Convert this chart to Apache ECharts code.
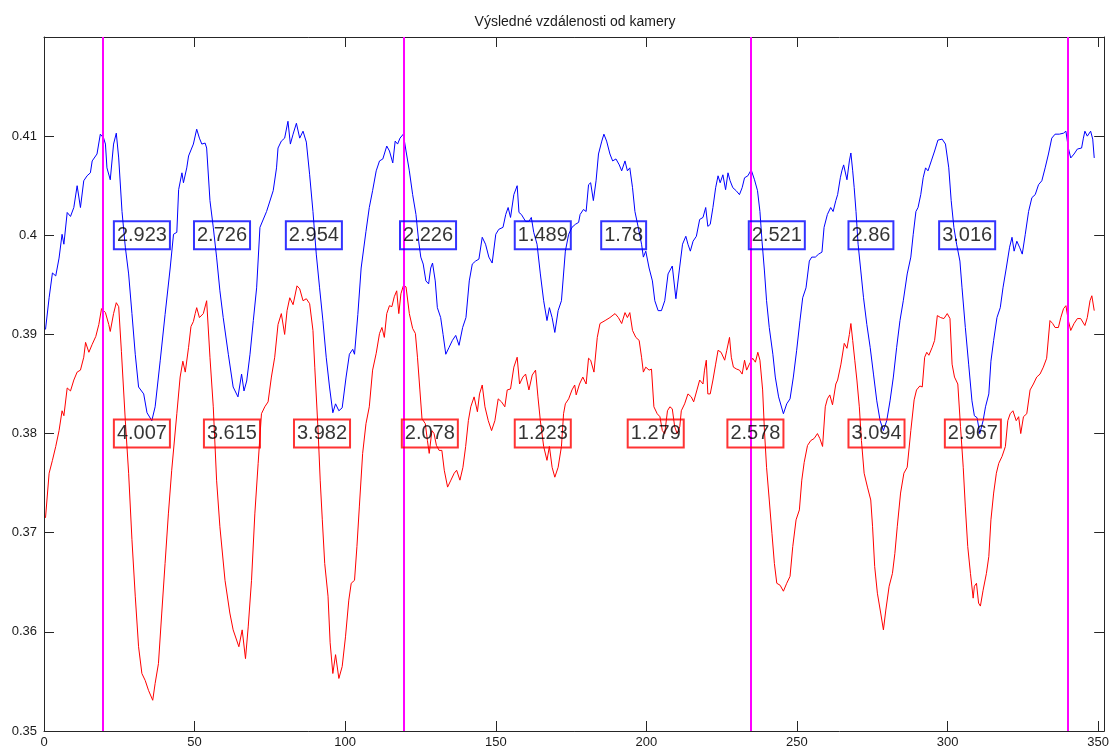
<!DOCTYPE html>
<html>
<head>
<meta charset="utf-8">
<script src="https://cdn.jsdelivr.net/npm/echarts@6/dist/echarts.min.js"></script>
<style>
html,body{margin:0;padding:0;background:#fff;}
#chart{width:1112px;height:752px;}
</style>
</head>
<body>
<div id="chart"></div>
<script>
// ---- data ----
const chartTitle = 'Výsledné vzdálenosti od kamery';
const xTickValues = [0, 50, 100, 150, 200, 250, 300, 350];
const yTickValues = [0.35, 0.36, 0.37, 0.38, 0.39, 0.4, 0.41];

const bluePoints = [
[0.5,0.3905],[1.7,0.3937],[2.8,0.3962],[3.9,0.3959],[5.0,0.3977],[6.0,0.4001],[6.6,0.3991],[7.7,0.4023],[8.8,0.4019],[9.9,0.4028],
[11.0,0.4050],[12.1,0.4028],[13.2,0.4055],[14.3,0.4060],[15.4,0.4063],[16.0,0.4075],[17.6,0.4082],[18.7,0.4102],[19.8,0.4098],[20.4,0.4092],
[20.9,0.4068],[22.0,0.4056],[23.1,0.4092],[24.0,0.4103],[24.8,0.4078],[25.9,0.4024],[27.0,0.3988],[28.1,0.3961],[29.2,0.3921],[30.3,0.3880],
[31.4,0.3847],[33.1,0.3840],[34.2,0.3821],[35.8,0.3813],[36.9,0.3827],[38.6,0.3874],[40.2,0.3920],[41.9,0.3967],[43.0,0.4001],[44.1,0.4003],
[44.7,0.4046],[45.8,0.4063],[46.3,0.4053],[47.4,0.4068],[48.0,0.4080],[49.6,0.4092],[50.7,0.4107],[51.6,0.4098],[52.4,0.4092],[53.5,0.4093],
[54.0,0.4088],[55.1,0.4035],[56.2,0.4008],[57.3,0.3978],[58.4,0.3944],[59.5,0.3917],[61.2,0.3880],[62.8,0.3847],[64.4,0.3837],[65.6,0.3860],
[66.4,0.3843],[67.3,0.3853],[68.4,0.3880],[69.5,0.3914],[70.6,0.3947],[71.7,0.4008],[73.9,0.4024],[76.1,0.4045],[77.2,0.4068],[77.7,0.4088],
[78.8,0.4095],[79.9,0.4098],[81.0,0.4115],[81.8,0.4092],[82.7,0.4102],[83.8,0.4113],[84.9,0.4098],[86.0,0.4105],[87.1,0.4094],[88.2,0.4061],
[89.3,0.4024],[90.4,0.3981],[91.5,0.3947],[92.6,0.3914],[93.7,0.3877],[94.8,0.3847],[95.9,0.3821],[96.8,0.3830],[97.9,0.3823],[99.0,0.3826],
[100.3,0.3857],[101.4,0.3880],[102.5,0.3885],[103.1,0.3880],[104.2,0.3920],[105.3,0.3967],[106.9,0.4004],[108.0,0.4028],[109.1,0.4045],[110.3,0.4065],
[111.4,0.4075],[112.5,0.4077],[113.8,0.4090],[114.7,0.4085],[115.8,0.4073],[116.6,0.4095],[117.4,0.4092],[118.2,0.4098],[119.3,0.4102],[120.2,0.4085],
[121.3,0.4065],[122.4,0.4041],[123.5,0.4021],[124.4,0.3994],[125.1,0.3978],[125.9,0.3971],[126.8,0.3954],[127.7,0.3951],[128.4,0.3967],[129.0,0.3972],
[129.9,0.3954],[130.6,0.3927],[131.7,0.3917],[132.5,0.3900],[133.4,0.3880],[134.5,0.3887],[135.6,0.3894],[136.7,0.3899],[137.8,0.3889],[139.0,0.3907],
[140.1,0.3917],[141.2,0.3954],[142.2,0.3971],[143.3,0.3974],[144.4,0.3976],[145.5,0.3998],[146.6,0.3991],[147.7,0.3978],[148.8,0.3972],[150.0,0.4001],
[151.0,0.4006],[152.4,0.4008],[153.3,0.4021],[154.1,0.4028],[154.9,0.4018],[156.0,0.4041],[157.1,0.4050],[157.7,0.4023],[158.5,0.4021],[159.9,0.4014],
[161.0,0.4014],[161.8,0.4018],[162.6,0.4003],[163.7,0.3991],[164.8,0.3961],[165.9,0.3934],[167.0,0.3914],[167.8,0.3927],[168.7,0.3917],[169.6,0.3902],
[170.7,0.3924],[171.8,0.3934],[173.1,0.3984],[174.2,0.4001],[175.3,0.4008],[176.4,0.4011],[177.5,0.4013],[178.0,0.4021],[179.1,0.4026],[180.0,0.4024],
[180.8,0.4051],[181.5,0.4053],[182.4,0.4035],[183.3,0.4055],[184.1,0.4082],[185.2,0.4095],[185.9,0.4102],[186.8,0.4095],[187.9,0.4082],[188.8,0.4075],
[189.9,0.4077],[191.0,0.4071],[191.8,0.4065],[192.9,0.4075],[193.7,0.4065],[194.5,0.4068],[195.4,0.4048],[196.2,0.4024],[197.3,0.4008],[198.4,0.3991],
[199.0,0.3978],[199.8,0.3984],[200.9,0.3967],[202.0,0.3954],[202.8,0.3934],[203.9,0.3924],[205.0,0.3924],[206.1,0.3934],[207.2,0.3961],[208.6,0.3969],
[209.8,0.3936],[210.9,0.3964],[212.0,0.3991],[213.1,0.3999],[213.8,0.3991],[214.6,0.3984],[215.5,0.3994],[216.6,0.3999],[217.7,0.4016],[218.8,0.4018],
[219.7,0.4028],[220.4,0.4009],[221.2,0.4011],[222.1,0.4028],[223.0,0.4048],[223.8,0.4060],[224.5,0.4053],[225.4,0.4061],[226.3,0.4046],[227.1,0.4063],
[227.8,0.4055],[228.7,0.4048],[229.8,0.4045],[230.9,0.4041],[231.8,0.4048],[232.6,0.4058],[233.7,0.4060],[234.8,0.4066],[235.9,0.4056],[236.9,0.4045],
[237.7,0.4024],[238.4,0.3994],[239.2,0.3964],[239.9,0.3934],[240.8,0.3907],[242.0,0.3880],[242.8,0.3857],[243.9,0.3837],[245.5,0.3820],[246.6,0.3830],
[247.7,0.3835],[248.8,0.3857],[249.9,0.3884],[251.0,0.3914],[251.9,0.3937],[253.0,0.3947],[254.1,0.3974],[254.9,0.3978],[256.1,0.3978],[257.2,0.3981],
[258.3,0.3983],[259.0,0.4008],[260.1,0.4021],[261.2,0.4028],[262.0,0.4024],[262.9,0.4035],[263.5,0.4041],[264.4,0.4058],[264.9,0.4065],[265.5,0.4071],
[266.6,0.4056],[267.4,0.4075],[267.9,0.4083],[268.5,0.4065],[269.0,0.4048],[269.6,0.4024],[270.3,0.3991],[271.2,0.3964],[272.1,0.3937],[273.2,0.3910],
[274.3,0.3887],[275.4,0.3860],[276.5,0.3833],[277.6,0.3813],[278.7,0.3803],[279.8,0.3813],[280.9,0.3833],[282.0,0.3857],[283.1,0.3887],[284.2,0.3914],
[285.3,0.3934],[286.6,0.3961],[287.8,0.3978],[288.6,0.4001],[289.5,0.4024],[290.2,0.4028],[291.1,0.4041],[291.9,0.4058],[292.7,0.4068],[293.5,0.4065],
[294.6,0.4075],[295.7,0.4085],[296.8,0.4096],[298.2,0.4097],[299.3,0.4092],[300.4,0.4068],[301.2,0.4035],[302.1,0.4008],[303.0,0.3991],[304.1,0.3974],
[304.8,0.3947],[305.9,0.3907],[307.0,0.3870],[308.1,0.3833],[308.9,0.3818],[309.8,0.3816],[310.7,0.3800],[311.8,0.3813],[312.6,0.3827],[313.7,0.3840],
[314.4,0.3873],[315.3,0.3894],[316.4,0.3917],[317.5,0.3927],[318.4,0.3947],[319.5,0.3967],[320.6,0.3988],[321.4,0.3998],[322.1,0.3984],[323.0,0.3994],
[323.9,0.3988],[324.8,0.3981],[325.8,0.4001],[326.9,0.4024],[328.0,0.4038],[329.1,0.4041],[330.2,0.4051],[331.3,0.4055],[332.4,0.4068],[333.5,0.4082],
[334.6,0.4098],[335.7,0.4102],[337.1,0.4102],[338.5,0.4103],[339.3,0.4105],[340.1,0.4088],[340.9,0.4078],[342.0,0.4082],[343.1,0.4087],[344.5,0.4088],
[345.1,0.4098],[345.6,0.4105],[346.4,0.4100],[347.5,0.4105],[348.2,0.4097],[348.7,0.4078]
];

const redPoints = [
[0.5,0.3715],[1.7,0.3760],[2.8,0.3773],[3.9,0.3787],[5.0,0.3803],[6.0,0.3823],[6.6,0.3818],[7.7,0.3846],[8.8,0.3843],[9.9,0.3854],
[11.0,0.3862],[12.1,0.3864],[13.2,0.3877],[13.8,0.3892],[14.9,0.3882],[16.0,0.3890],[17.2,0.3898],[18.2,0.3910],[19.1,0.3926],[20.4,0.3922],
[21.5,0.3910],[22.0,0.3903],[23.1,0.3921],[24.0,0.3932],[24.8,0.3928],[25.7,0.3883],[27.0,0.3813],[28.1,0.3760],[29.2,0.3693],[30.3,0.3636],
[31.4,0.3585],[32.5,0.3558],[33.6,0.3551],[34.7,0.3541],[36.1,0.3531],[36.9,0.3548],[38.0,0.3568],[39.1,0.3619],[40.2,0.3669],[41.3,0.3719],
[42.4,0.3763],[44.1,0.3820],[45.2,0.3857],[46.1,0.3873],[46.9,0.3862],[48.0,0.3887],[48.8,0.3908],[49.6,0.3913],[50.2,0.3921],[50.7,0.3927],
[51.6,0.3917],[52.9,0.3921],[54.0,0.3934],[55.1,0.3877],[56.2,0.3827],[57.3,0.3753],[58.4,0.3706],[60.1,0.3652],[61.7,0.3619],[62.8,0.3602],
[64.7,0.3585],[65.8,0.3602],[66.9,0.3573],[67.8,0.3605],[68.9,0.3652],[70.0,0.3719],[71.1,0.3770],[72.2,0.3820],[73.3,0.3827],[74.4,0.3832],
[75.5,0.3857],[76.6,0.3877],[77.7,0.3910],[78.8,0.3921],[79.9,0.3900],[80.7,0.3924],[81.6,0.3937],[82.7,0.3930],[84.0,0.3949],[84.9,0.3946],
[86.0,0.3934],[87.1,0.3936],[88.2,0.3931],[89.3,0.3904],[89.9,0.3867],[91.0,0.3803],[91.7,0.3753],[92.4,0.3713],[93.2,0.3669],[94.3,0.3636],
[95.0,0.3589],[95.9,0.3558],[96.8,0.3577],[97.9,0.3553],[99.0,0.3565],[100.1,0.3595],[101.2,0.3632],[102.0,0.3649],[103.1,0.3652],[103.9,0.3686],
[104.7,0.3726],[105.8,0.3780],[106.9,0.3810],[108.0,0.3827],[109.1,0.3864],[110.3,0.3881],[111.4,0.3901],[112.2,0.3907],[113.0,0.3897],[113.8,0.3921],
[114.7,0.3929],[115.5,0.3928],[116.3,0.3938],[117.1,0.3944],[117.8,0.3921],[118.5,0.3941],[119.3,0.3949],[120.2,0.3948],[121.3,0.3921],[122.4,0.3906],
[123.3,0.3901],[124.0,0.3877],[124.8,0.3844],[125.5,0.3815],[126.6,0.3810],[127.3,0.3793],[127.9,0.3780],[128.8,0.3803],[129.5,0.3800],[130.3,0.3788],
[131.2,0.3783],[132.1,0.3783],[132.9,0.3763],[134.0,0.3746],[135.1,0.3753],[136.2,0.3760],[137.0,0.3763],[138.1,0.3753],[139.1,0.3766],[140.0,0.3787],
[140.9,0.3813],[141.7,0.3827],[142.8,0.3837],[143.9,0.3822],[144.6,0.3840],[145.5,0.3849],[146.4,0.3827],[147.5,0.3813],[148.6,0.3803],[149.7,0.3813],
[150.8,0.3835],[151.9,0.3832],[153.0,0.3827],[153.8,0.3844],[154.9,0.3845],[156.0,0.3867],[157.1,0.3877],[157.9,0.3850],[159.0,0.3857],[159.9,0.3860],
[161.0,0.3844],[162.1,0.3859],[163.2,0.3864],[164.0,0.3837],[164.8,0.3813],[165.9,0.3787],[167.0,0.3773],[167.8,0.3787],[168.7,0.3766],[169.6,0.3756],
[170.7,0.3766],[171.8,0.3787],[172.5,0.3820],[173.1,0.3830],[174.2,0.3835],[175.3,0.3844],[176.2,0.3849],[176.7,0.3839],[177.8,0.3850],[178.9,0.3857],
[180.0,0.3850],[180.8,0.3876],[181.5,0.3874],[182.6,0.3862],[183.7,0.3897],[184.6,0.3911],[186.3,0.3914],[187.9,0.3917],[189.6,0.3921],[190.7,0.3917],
[191.8,0.3911],[192.9,0.3922],[193.7,0.3917],[194.5,0.3922],[195.4,0.3904],[196.5,0.3897],[197.6,0.3894],[198.4,0.3877],[199.0,0.3862],[199.8,0.3867],
[200.9,0.3864],[201.7,0.3865],[202.5,0.3827],[203.6,0.3820],[204.5,0.3817],[205.3,0.3803],[206.1,0.3800],[207.0,0.3823],[207.8,0.3827],[208.6,0.3825],
[209.4,0.3807],[210.2,0.3800],[211.1,0.3807],[211.6,0.3823],[212.7,0.3830],[213.8,0.3840],[214.9,0.3837],[215.7,0.3832],[216.8,0.3844],[217.7,0.3854],
[218.8,0.3850],[219.3,0.3864],[219.9,0.3874],[220.4,0.3840],[221.2,0.3840],[222.1,0.3854],[223.0,0.3870],[223.8,0.3884],[224.8,0.3882],[226.0,0.3874],
[226.7,0.3884],[227.6,0.3897],[228.2,0.3877],[228.9,0.3867],[230.0,0.3865],[230.9,0.3864],[231.8,0.3860],[232.6,0.3874],[233.3,0.3864],[234.2,0.3870],
[235.3,0.3876],[236.2,0.3872],[237.0,0.3882],[237.7,0.3874],[238.6,0.3844],[239.2,0.3803],[239.9,0.3766],[240.8,0.3733],[241.7,0.3699],[242.5,0.3669],
[243.3,0.3649],[244.4,0.3647],[245.5,0.3641],[246.6,0.3649],[247.7,0.3656],[248.6,0.3686],[249.7,0.3713],[250.8,0.3723],[251.6,0.3753],[252.4,0.3771],
[253.5,0.3788],[254.6,0.3793],[255.7,0.3795],[256.8,0.3800],[257.6,0.3795],[258.5,0.3787],[259.4,0.3827],[260.1,0.3835],[260.9,0.3839],[261.8,0.3829],
[262.9,0.3850],[263.5,0.3854],[264.6,0.3870],[265.7,0.3891],[266.6,0.3886],[267.4,0.3900],[267.9,0.3911],[268.5,0.3894],[269.2,0.3874],[269.9,0.3854],
[270.7,0.3827],[271.4,0.3793],[272.3,0.3760],[273.4,0.3746],[274.5,0.3733],[275.1,0.3706],[275.8,0.3666],[276.7,0.3639],[277.8,0.3619],[278.7,0.3602],
[279.5,0.3622],[280.6,0.3646],[281.7,0.3659],[282.5,0.3679],[283.3,0.3706],[284.4,0.3740],[285.5,0.3760],[286.6,0.3766],[287.8,0.3803],[288.9,0.3834],
[289.7,0.3844],[290.8,0.3848],[291.6,0.3847],[292.4,0.3877],[293.1,0.3882],[293.8,0.3879],[294.9,0.3887],[295.7,0.3894],[296.6,0.3919],[297.7,0.3917],
[298.8,0.3916],[299.9,0.3921],[300.8,0.3916],[301.5,0.3870],[302.3,0.3857],[303.4,0.3850],[304.3,0.3807],[305.2,0.3766],[305.9,0.3726],[306.7,0.3686],
[307.6,0.3659],[308.5,0.3634],[308.9,0.3646],[309.6,0.3649],[310.3,0.3629],[310.9,0.3626],[311.8,0.3642],[312.9,0.3659],[313.7,0.3676],[314.4,0.3713],
[315.3,0.3740],[316.2,0.3760],[317.0,0.3770],[318.1,0.3777],[319.2,0.3787],[320.0,0.3813],[320.8,0.3820],[321.7,0.3823],[322.8,0.3813],[323.6,0.3817],
[324.3,0.3800],[325.2,0.3817],[326.3,0.3820],[327.4,0.3844],[328.5,0.3850],[329.6,0.3857],[330.7,0.3860],[331.8,0.3867],[332.9,0.3876],[334.0,0.3914],
[334.9,0.3911],[335.7,0.3907],[336.8,0.3907],[337.6,0.3917],[338.5,0.3926],[339.3,0.3929],[340.1,0.3914],[340.9,0.3904],[342.0,0.3911],[343.1,0.3916],
[344.2,0.3916],[345.6,0.3909],[346.4,0.3917],[347.3,0.3934],[347.9,0.3939],[348.7,0.3924]
];

const markerX = [19.5, 119.5, 234.6, 339.8];

const blueLabelText = ['2.923', '2.726', '2.954', '2.226', '1.489', '1.78', '2.521', '2.86', '3.016'];
const blueLabelX    = [23.2, 49.8, 80.3, 118.2, 156.3, 185.0, 234.0, 267.1, 297.2];
const blueLabelLevel = 0.40;

const redLabelText = ['4.007', '3.615', '3.982', '2.078', '1.223', '1.279', '2.578', '3.094', '2.967'];
const redLabelX    = [23.2, 53.1, 83.0, 118.8, 156.3, 193.8, 226.9, 267.1, 299.1];
const redLabelLevel = 0.38;

// ---- chart ----
const FONT = "'Liberation Sans', Arial, Helvetica, sans-serif";
const AXIS_COLOR = '#262626';
const BOX_H = 28; // lineHeight 22 + padding 3 + 3
const chart = echarts.init(document.getElementById('chart'), null, {renderer: 'canvas', devicePixelRatio: 1});

function xFmt(v) { return xTickValues.indexOf(Math.round(v)) >= 0 && Math.abs(v - Math.round(v)) < 1e-6 ? String(Math.round(v)) : ''; }
function yFmt(v) {
  for (const t of yTickValues) { if (Math.abs(v - t) < 1e-9) return String(t); }
  return '';
}

const axisCommon = {
  axisLine: {show: true, onZero: false, lineStyle: {color: AXIS_COLOR, width: 1}},
  axisTick: {show: true, inside: true, length: 10, lineStyle: {color: AXIS_COLOR, width: 1}},
  splitLine: {show: false}
};

function labelSeries(name, texts, xs, level, color, offsets) {
  return {
    name: name, type: 'scatter', symbolSize: 0, silent: true, z: 10,
    data: texts.map((t, i) => ({value: [xs[i], level], name: t, label: {offset: offsets ? offsets[i] : [0, 0]}})),
    label: {
      show: true, position: 'right', distance: 0,
      formatter: p => p.name,
      color: '#000', fontSize: 20, fontFamily: FONT, lineHeight: 22,
      borderColor: color, borderWidth: 1, padding: [3, 3, 3, 3],
      backgroundColor: 'transparent'
    },
    labelLayout: {hideOverlap: false}
  };
}

function buildOption(blueOff, redOff) {
  return {
    animation: false,
    backgroundColor: '#ffffff',
    grid: {left: 44, right: 5, top: 37, bottom: 21, containLabel: false},
    graphic: [{
      type: 'text', x: 575, y: 22, silent: true,
      style: {text: chartTitle, fill: '#1a1a1a', font: '14px ' + FONT, textAlign: 'center', textVerticalAlign: 'middle'}
    }],
    xAxis: [
      Object.assign({type: 'value', min: 0, max: 352, interval: 50, position: 'bottom',
        axisLabel: {show: true, formatter: xFmt, color: '#1a1a1a', fontSize: 13, fontFamily: FONT, margin: 5, showMaxLabel: true}}, axisCommon),
      Object.assign({type: 'value', min: 0, max: 352, interval: 50, position: 'top',
        axisLabel: {show: false}}, axisCommon)
    ],
    yAxis: [
      Object.assign({type: 'value', min: 0.35, max: 0.42, interval: 0.01, position: 'left',
        axisLabel: {show: true, formatter: yFmt, color: '#1a1a1a', fontSize: 13, fontFamily: FONT, margin: 7}}, axisCommon),
      Object.assign({type: 'value', min: 0.35, max: 0.42, interval: 0.01, position: 'right',
        axisLabel: {show: false}}, axisCommon)
    ],
    series: [
      {name: 'blue', type: 'line', xAxisIndex: 0, yAxisIndex: 0, data: bluePoints, showSymbol: false, symbol: 'none',
       lineStyle: {color: '#0000ff', width: 1}, silent: true, z: 2},
      {name: 'red', type: 'line', xAxisIndex: 0, yAxisIndex: 0, data: redPoints, showSymbol: false, symbol: 'none',
       lineStyle: {color: '#ff0000', width: 1}, silent: true, z: 2},
      {name: 'markers', type: 'line', xAxisIndex: 0, yAxisIndex: 0, data: [], silent: true, z: 5,
       markLine: {silent: true, symbol: ['none', 'none'], label: {show: false},
         lineStyle: {color: '#ff00ff', width: 2, type: 'solid'},
         emphasis: {disabled: true},
         data: markerX.map(v => ({xAxis: v}))}},
      labelSeries('blueLabels', blueLabelText, blueLabelX, blueLabelLevel, '#0000ff', blueOff),
      labelSeries('redLabels', redLabelText, redLabelX, redLabelLevel, '#ff0000', redOff)
    ]
  };
}

chart.setOption(buildOption(null, null));

// snap label boxes to half-pixels so their 1px borders render crisp
function snapOffsets(xs, level) {
  return xs.map(x => {
    const p = chart.convertToPixel({xAxisIndex: 0, yAxisIndex: 0}, [x, level]);
    const left = p[0];
    const top = p[1] - BOX_H / 2;
    return [(Math.floor(left) + 0.5) - left, (Math.floor(top) + 0.5) - top];
  });
}
chart.setOption(buildOption(snapOffsets(blueLabelX, blueLabelLevel), snapOffsets(redLabelX, redLabelLevel)));
</script>
</body>
</html>
